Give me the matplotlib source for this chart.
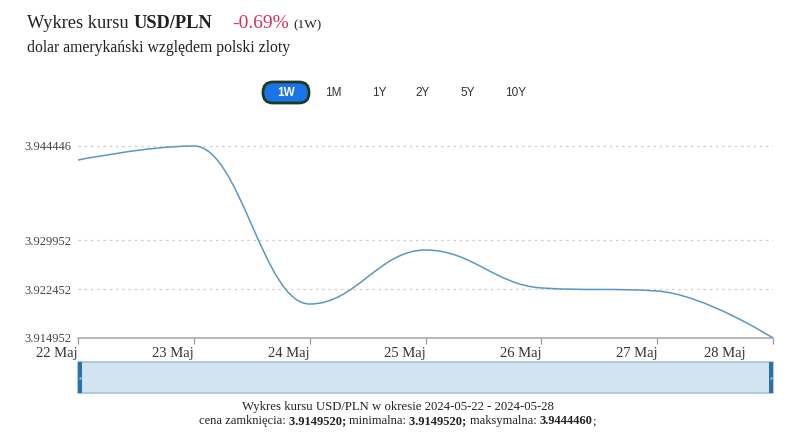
import numpy as np
import matplotlib
matplotlib.use("Agg")
import matplotlib.pyplot as plt
import matplotlib.dates as mdates
from matplotlib.path import Path
from matplotlib.patches import PathPatch, FancyBboxPatch, Rectangle

# ---------------- data ----------------
dates = ["2024-05-22", "2024-05-23", "2024-05-24", "2024-05-25",
         "2024-05-26", "2024-05-27", "2024-05-28"]
rates = [3.94229, 3.944446, 3.92017, 3.92847, 3.92264, 3.92217, 3.914952]
ytick_vals = [3.914952, 3.922452, 3.929952, 3.944446]
ytick_labels = ["3.914952", "3.922452", "3.929952", "3.944446"]
range_buttons = ["1W", "1M", "1Y", "2Y", "5Y", "10Y"]
close_price = "3.9149520"
min_price = "3.9149520"
max_price = "3.9444460"

SERIF = "Liberation Serif"
SANS = "Liberation Sans"
W, H = 795, 447


def fx(px):
    return px / W


def fy(py):
    return 1 - py / H


def spline_path(xs, ys, smoothing=1.5):
    # highcharts-like spline: control points per point, flattened at extremes
    n = len(xs)
    lc = [None] * n
    rc = [None] * n
    d = smoothing + 1
    for i in range(1, n - 1):
        x, y = xs[i], ys[i]
        lx, ly = xs[i - 1], ys[i - 1]
        nx, ny = xs[i + 1], ys[i + 1]
        lcx = (smoothing * x + lx) / d
        lcy = (smoothing * y + ly) / d
        rcx = (smoothing * x + nx) / d
        rcy = (smoothing * y + ny) / d
        corr = 0
        if rcx != lcx:
            corr = (rcy - lcy) * (rcx - x) / (rcx - lcx) + y - rcy
        lcy += corr
        rcy += corr
        if lcy > ly and lcy > y:
            lcy = max(ly, y); rcy = 2 * y - lcy
        elif lcy < ly and lcy < y:
            lcy = min(ly, y); rcy = 2 * y - lcy
        if rcy > ny and rcy > y:
            rcy = max(ny, y); lcy = 2 * y - rcy
        elif rcy < ny and rcy < y:
            rcy = min(ny, y); lcy = 2 * y - rcy
        lc[i] = (lcx, lcy)
        rc[i] = (rcx, rcy)
    verts = [(xs[0], ys[0])]
    codes = [Path.MOVETO]
    for i in range(1, n):
        c1 = rc[i - 1] or (xs[i - 1], ys[i - 1])
        c2 = lc[i] or (xs[i], ys[i])
        verts += [c1, c2, (xs[i], ys[i])]
        codes += [Path.CURVE4] * 3
    return Path(verts, codes)


fig = plt.figure(figsize=(W / 100, H / 100), dpi=100)
fig.patch.set_facecolor("white")

# overlay in pixel units for the page furniture (buttons, navigator)
ov = fig.add_axes([0, 0, 1, 1], zorder=-1)
ov.set_xlim(0, W)
ov.set_ylim(H, 0)
ov.axis("off")

# ---------------- main plot ----------------
ax_top, ax_bot, ax_l, ax_r = 120, 338, 78, 773
ax = fig.add_axes([fx(ax_l), fy(ax_bot), fx(ax_r - ax_l), (ax_bot - ax_top) / H])
x = mdates.datestr2num(dates)
ppu = 6510.0  # pixels per unit
ax.set_xlim(x[0], x[-1])
ax.set_ylim(ytick_vals[0], ytick_vals[0] + (ax_bot - ax_top) / ppu)

ax.add_patch(PathPatch(spline_path(list(x), rates), facecolor="none",
                       edgecolor="#5b97c4", lw=1.1, zorder=3))

for v in ytick_vals[1:]:
    ax.axhline(v, color="#cfcfcf", lw=0.9, ls=(0, (2, 3)), zorder=1)

ax.set_yticks(ytick_vals)
ax.set_yticklabels(ytick_labels)
ax.tick_params(axis="y", length=0, pad=5, labelsize=9, labelcolor="#444444")
for lab in ax.get_yticklabels():
    lab.set_fontfamily(SERIF)

ax.set_xticks(x)
ax.set_xticklabels([mdates.num2date(v).strftime("%d Maj") for v in x[:-1]] + [""])
ax.tick_params(axis="x", length=4, width=0.9, color="#999999", pad=2.5,
               labelsize=10.5, labelcolor="#333333")
for lab in ax.get_xticklabels():
    lab.set_fontfamily(SERIF)
    lab.set_horizontalalignment("right")
ax.annotate("28 Maj", xy=(x[-1], 0), xycoords=("data", "axes fraction"),
            xytext=(-20, -6.5), textcoords="offset points", ha="right", va="top",
            fontsize=10.5, color="#333333", family=SERIF)

for s in ["top", "right", "left"]:
    ax.spines[s].set_visible(False)
ax.spines["bottom"].set_color("#aaaaaa")
ax.spines["bottom"].set_linewidth(1.2)
ax.set_facecolor("none")

# ---------------- navigator ----------------
nav_top, nav_bot = 362, 393
ov.add_patch(Rectangle((ax_l, nav_top), ax_r - ax_l, nav_bot - nav_top,
                       facecolor="#d3e4f1", edgecolor="#9fc2dd", lw=1.2))
for hx in [ax_l, ax_r - 4]:
    ov.add_patch(Rectangle((hx, nav_top), 4, nav_bot - nav_top,
                           facecolor="#2a70aa", edgecolor="none"))
    ov.plot([hx + 2], [(nav_top + nav_bot) / 2], marker="s", ms=1.5,
            color="#a8cbe6", mec="none")

# ---------------- range buttons ----------------
btn_x = [286, 333, 379, 423, 468, 516]
for lbl, bx in zip(range_buttons, btn_x):
    if lbl == "1W":
        ov.add_patch(FancyBboxPatch((bx - 20, 85), 40, 15,
                                    boxstyle="round,pad=3,rounding_size=10",
                                    facecolor="#1a74e8", edgecolor="#1e3b22", lw=2.0))
        fig.text(fx(bx), fy(92.5), lbl, ha="center", va="center", color="white",
                 fontsize=8.5, fontweight="bold", family=SANS)
    else:
        fig.text(fx(bx), fy(92.5), lbl, ha="center", va="center", color="#333333",
                 fontsize=8.5, family=SANS)

# ---------------- header ----------------
t1 = fig.text(fx(27), fy(28), "Wykres kursu ", fontsize=13.2, family=SERIF,
              color="#222222", va="baseline")
t2 = fig.text(0, 0, "USD/PLN", fontsize=13.2, family=SERIF, fontweight="bold",
              color="#222222", va="baseline")
t3 = fig.text(fx(232), fy(28), "-0.69%", fontsize=14, family=SERIF,
              color="#d8305f", va="baseline")
t4 = fig.text(fx(293), fy(28), "(1W)", fontsize=9.5, family=SERIF,
              color="#222222", va="baseline")
fig.text(fx(27), fy(52), "dolar amerykański względem polski zloty", fontsize=11.3,
         family=SERIF, color="#222222", va="baseline")

# ---------------- footer ----------------
fig.text(0.5, fy(410), "Wykres kursu USD/PLN w okresie 2024-05-22 - 2024-05-28",
         ha="center", va="baseline", fontsize=9.2, family=SERIF, color="#222222")
parts = [("cena zamknięcia: ", "normal"), (close_price + "; ", "bold"),
         ("minimalna: ", "normal"), (min_price + "; ", "bold"),
         ("maksymalna: ", "normal"), (max_price, "bold"), (";", "normal")]
foot = [fig.text(0, fy(424), p, va="baseline", fontsize=9.0, family=SERIF,
                 color="#222222", fontweight=w) for p, w in parts]

# chain the mixed-weight pieces
fig.canvas.draw()
r = fig.canvas.get_renderer()
inv = fig.transFigure.inverted()


def chain(texts, x0):
    cur = x0
    for t in texts:
        t.set_x(cur)
        bb = t.get_window_extent(r)
        w = inv.transform((bb.x1, 0))[0] - inv.transform((bb.x0, 0))[0]
        cur += w
    return cur - x0


b1 = t1.get_window_extent(r)
t2.set_position((inv.transform((b1.x1, 0))[0], t1.get_position()[1]))
total = chain(foot, 0)
chain(foot, 0.5 - total / 2)

fig.savefig("out.png", dpi=100)
